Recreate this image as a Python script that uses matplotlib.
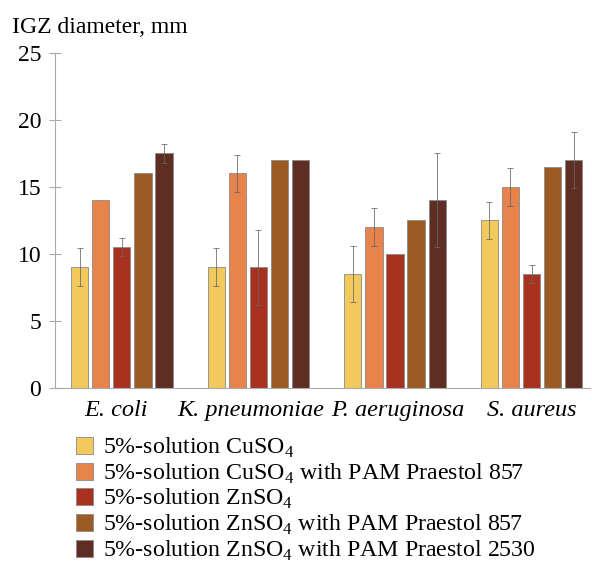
import matplotlib
matplotlib.use("Agg")
import matplotlib.pyplot as plt
import matplotlib.transforms as mtransforms
import numpy as np

plt.rcParams['font.family'] = ['Liberation Serif', 'DejaVu Serif']
plt.rcParams['mathtext.fontset'] = 'custom'
plt.rcParams['mathtext.rm'] = 'Liberation Serif'

bacteria = ['E. coli', 'K. pneumoniae', 'P. aeruginosa', 'S. aureus']
series = ['5%-solution CuSO$_4$',
          '5%-solution CuSO$_4$ with PAM Praestol 857',
          '5%-solution ZnSO$_4$',
          '5%-solution ZnSO$_4$ with PAM Praestol 857',
          '5%-solution ZnSO$_4$ with PAM Praestol 2530']
colors = ['#F2C95C', '#E8834B', '#A8311F', '#9B5B22', '#5F2E23']

cuso4 = [9, 9, 8.5, 12.5]
cuso4_pam857 = [14, 16, 12, 15]
znso4 = [10.5, 9, 10, 8.5]
znso4_pam857 = [16, 17, 12.5, 16.5]
znso4_pam2530 = [17.5, 17, 14, 17]

err_cuso4 = [1.4, 1.4, 2.1, 1.4]
err_cuso4_pam857 = [0, 1.4, 1.4, 1.4]
err_znso4 = [0.7, 2.8, 0, 0.7]
err_znso4_pam857 = [0, 0, 0, 0]
err_znso4_pam2530 = [0.7, 0, 3.5, 2.1]

values = [cuso4, cuso4_pam857, znso4, znso4_pam857, znso4_pam2530]
errors = [err_cuso4, err_cuso4_pam857, err_znso4, err_znso4_pam857, err_znso4_pam2530]

fig = plt.figure(figsize=(5.92, 5.67), dpi=100)
ax = fig.add_axes([0.093, 0.316, 0.904, 0.591])

x = np.arange(len(bacteria))
step = 0.154
width = 0.125
handles = []
for i in range(len(series)):
    pos = x + (i - 2) * step
    err = np.array(errors[i])
    yerr = np.where(err > 0, err, np.nan)
    b = ax.bar(pos, values[i], width, color=colors[i], edgecolor='#8a8a8a',
               linewidth=0.6, label=series[i], zorder=2)
    ax.errorbar(pos, values[i], yerr=yerr, fmt='none', ecolor='#666666',
                elinewidth=0.7, capsize=2, capthick=0.7, zorder=3, alpha=0.8)
    handles.append(b)

ax.set_xlim(-0.49, 3.43)
ax.set_ylim(0, 25)
ax.set_yticks([0, 5, 10, 15, 20, 25])
ax.set_xticks(x)
ax.set_xticklabels(bacteria, style='italic', fontsize=17.5)
ax.tick_params(axis='x', length=0, pad=9)
ax.tick_params(axis='y', direction='inout', length=8, width=0.8,
               colors='#aaaaaa', labelcolor='black', labelsize=17, pad=6)
# nudge category labels a little, as in the original
shifts = [-6, -8, 3, 0]
for lab, dx in zip(ax.get_xticklabels(), shifts):
    lab.set_transform(lab.get_transform() +
                      mtransforms.ScaledTranslation(dx / 100, 0, fig.dpi_scale_trans))
for s in ['top', 'right']:
    ax.spines[s].set_visible(False)
ax.spines['left'].set_color('#aaaaaa')
ax.spines['bottom'].set_color('#aaaaaa')

fig.text(0.02, 0.952, 'IGZ diameter, mm', fontsize=17, va='center', ha='left')

fig.legend(handles=handles, labels=series, loc='upper left',
           bbox_to_anchor=(0.128, 0.231), frameon=False, fontsize=17.2,
           handlelength=0.72, handleheight=0.72, handletextpad=0.42,
           labelspacing=0.06, borderpad=0, borderaxespad=0)

fig.savefig('out.png', dpi=100)
